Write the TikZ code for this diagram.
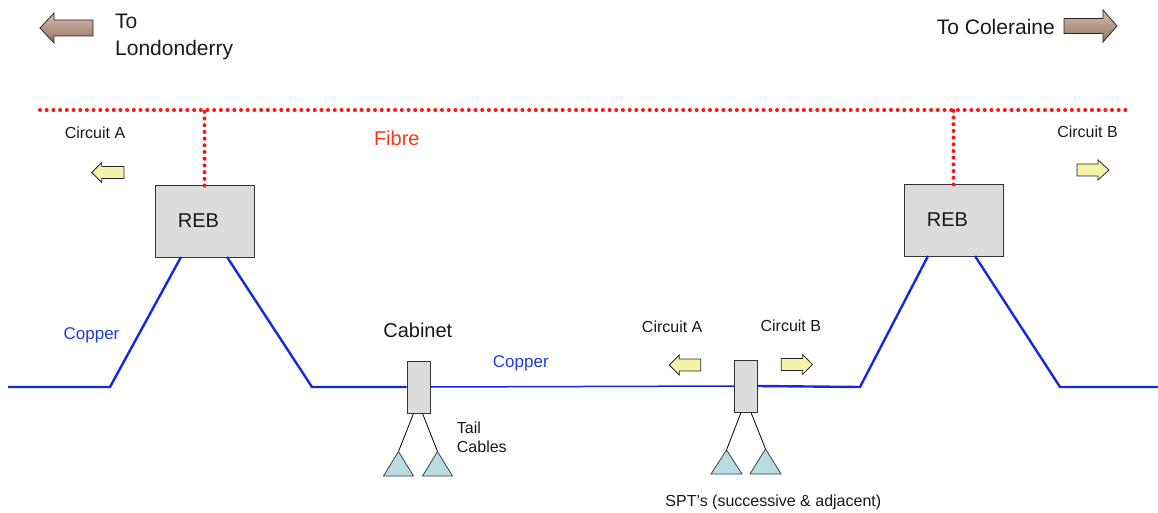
\documentclass[tikz,border=0pt]{standalone}
\usepackage{fontspec}
\setmainfont{Liberation Sans}
\usetikzlibrary{calc}

\definecolor{copperblue}{RGB}{20,40,225}
\definecolor{coppertext}{RGB}{30,60,220}
\definecolor{fibrered}{RGB}{250,20,20}
\definecolor{fibretext}{RGB}{255,55,20}
\definecolor{boxgrey}{RGB}{220,220,220}
\definecolor{teal}{RGB}{183,221,224}
\definecolor{paleyellow}{RGB}{245,242,170}
\definecolor{brownlight}{RGB}{248,242,238}
\definecolor{brownmid}{RGB}{212,188,176}
\definecolor{browndark}{RGB}{150,115,100}

% block arrow: style, tip x, head base x, tail x, mid y, head half height, body half height
\newcommand{\blockarrow}[7]{%
  \path[#1] (#2,#5) -- (#3,#5-#6) -- (#3,#5-#7) -- (#4,#5-#7)
    -- (#4,#5+#7) -- (#3,#5+#7) -- (#3,#5+#6) -- cycle;}

\tikzset{
  fibre/.style={draw=fibrered, line width=4pt, line cap=round,
    dash pattern=on 0pt off 6.7pt},
  copper/.style={draw=copperblue, line width=2.4pt, line join=miter},
  copperthin/.style={draw=copperblue, line width=1.5pt},
  rebbox/.style={draw=black!80, fill=boxgrey, line width=1pt,
    minimum width=99pt, minimum height=71pt, inner sep=0pt},
  joint/.style={draw=black!80, fill=boxgrey, line width=1pt,
    minimum width=23pt, minimum height=52pt, inner sep=0pt},
  tail/.style={draw=black, line width=0.8pt},
  spt/.style={draw=black!75, fill=teal, line width=0.8pt, line join=miter},
  dirarrow/.style={draw=black!85, line width=0.8pt, top color=brownmid,
    middle color=brownlight, bottom color=browndark},
  circarrow/.style={draw=black!85, line width=0.8pt, fill=paleyellow},
  bigtext/.style={font=\fontsize{21}{27}\selectfont, text=black!90, inner sep=0pt},
  midtext/.style={font=\fontsize{20}{24}\selectfont, text=black!90, inner sep=0pt},
  smalltext/.style={font=\fontsize{16}{19}\selectfont, text=black!90, inner sep=0pt},
  coppertxt/.style={font=\fontsize{17}{20}\selectfont, text=coppertext, inner sep=0pt},
}

\begin{document}
\begin{tikzpicture}[x=1pt, y=-1pt]
\useasboundingbox (0,0) rectangle (1158,513);

% direction arrows and captions
\blockarrow{dirarrow}{40}{54}{93}{28}{15}{8}
\blockarrow{dirarrow}{1117}{1103}{1064}{26}{16}{7.5}
\node[bigtext, anchor=west, align=left] (tolon) at (115,36.5) {To\\Londonderry};
\node[bigtext, anchor=east] (tocol) at (1055,27) {To Coleraine};

% REB cabinets
\node[rebbox] (reb1) at (204.5,221.5) {};
\node[rebbox] (reb2) at (953.5,220.5) {};
\node[midtext] (reb1lbl) at (198.5,221) {REB};
\node[midtext] (reb2lbl) at (947.5,220) {REB};

% fibre backbone
\coordinate (fl) at (40,110);
\coordinate (fr) at (1128,110);
\draw[fibre] (fl) -- (fr);
\draw[fibre] (reb1.north) -- (reb1.north |- fl);
\draw[fibre] (reb2.north) -- (reb2.north |- fl);
\node[midtext, text=fibretext] (fibrelbl) at (396.8,138.5) {Fibre};

% street cabinet and SPT joint
\node[joint] (cab) at (418.5,387) {};
\node[joint] (sptbox) at (746,386) {};

% copper routes
\coordinate (c0) at (8,387);
\coordinate (c1) at (110,387);
\coordinate (c2) at (181,257);
\coordinate (c3) at (227,257);
\coordinate (c4) at (312,387);
\draw[copper] (c0) -- (c1) -- (c2);
\draw[copper] (c3) -- (c4) -- (cab.west);
\draw[copperthin] (cab.east) -- (sptbox.west);
\coordinate (d1) at (860,387);
\coordinate (d2) at (928,256);
\coordinate (d3) at (975,256);
\coordinate (d4) at (1060,387);
\coordinate (d5) at (1158,387);
\draw[copper] (sptbox.east) -- (d1) -- (d2);
\draw[copper] (d3) -- (d4) -- (d5);

\node[coppertxt] (cu1) at (91.5,335) {Copper};
\node[coppertxt] (cu2) at (520.8,363.5) {Copper};

% tail cables to SPTs
\coordinate (t1) at (398.5,451.5);
\coordinate (t2) at (437.5,451.5);
\coordinate (t3) at (726.5,450);
\coordinate (t4) at (765.5,449);
\draw[tail] ($(cab.south)+(-5,0)$) -- (t1);
\draw[tail] ($(cab.south)+(4,0)$) -- (t2);
\draw[tail] ($(sptbox.south)+(-5,0)$) -- (t3);
\draw[tail] ($(sptbox.south)+(5,0)$) -- (t4);
\draw[spt] (t1) -- ++(-15,24.5) -- ++(30,0) -- cycle;
\draw[spt] (t2) -- ++(-15,24.5) -- ++(30,0) -- cycle;
\draw[spt] (t3) -- ++(-15.5,24) -- ++(31,0) -- cycle;
\draw[spt] (t4) -- ++(-15.5,25) -- ++(31,0) -- cycle;

\node[midtext] (cablbl) at (417.8,330) {Cabinet};
\node[smalltext, anchor=west, align=left] (taillbl) at (456.7,437.5) {Tail\\Cables};
\node[smalltext] (sptlbl) at (773.3,502) {SPT’s (successive \& adjacent)};

% circuit directions
\blockarrow{circarrow}{91.7}{101.7}{124}{172.5}{10}{6}
\blockarrow{circarrow}{1109}{1098}{1077}{170}{10}{6}
\blockarrow{circarrow}{669.3}{679.3}{700.7}{365}{10}{6}
\blockarrow{circarrow}{812.3}{802.7}{781.3}{364.5}{10}{6}
\node[smalltext] (ca1) at (95,133) {Circuit A};
\node[smalltext] (cb1) at (1087.5,132) {Circuit B};
\node[smalltext] (ca2) at (672.2,327) {Circuit A};
\node[smalltext] (cb2) at (790.8,326) {Circuit B};
\end{tikzpicture}
\end{document}
